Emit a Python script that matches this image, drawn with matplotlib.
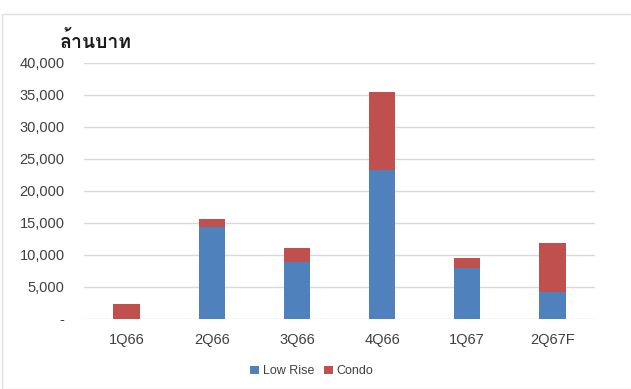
import matplotlib
matplotlib.use("Agg")
import matplotlib.pyplot as plt
from matplotlib import font_manager
from matplotlib.ticker import FuncFormatter
import numpy as np

quarters = ["1Q66", "2Q66", "3Q66", "4Q66", "1Q67", "2Q67F"]
low_rise = [0, 14400, 8950, 23300, 8000, 4200]
condo = [2400, 1300, 2150, 12200, 1500, 7700]
y_ticks = [0, 5000, 10000, 15000, 20000, 25000, 30000, 35000, 40000]
unit_label = "ล้านบาท"

BLUE = "#4F81BD"
RED = "#C0504D"
TEXT = "#404040"


def thai_font():
    # find an installed font that has Thai glyphs
    for f in font_manager.fontManager.ttflist:
        try:
            ft = font_manager.get_font(f.fname)
            if 0x0E25 in ft.get_charmap():
                return f.name
        except Exception:
            pass
    return "DejaVu Sans"


plt.rcParams["font.family"] = ["Liberation Sans", "DejaVu Sans"]

fig = plt.figure(figsize=(6.31, 3.89), dpi=100)
ax = fig.add_axes([84 / 631, 1 - 319 / 389, 511 / 631, 256 / 389])

x = np.arange(len(quarters))
ax.bar(x, low_rise, width=0.31, color=BLUE, label="Low Rise", zorder=3)
ax.bar(x, condo, width=0.31, bottom=low_rise, color=RED, label="Condo", zorder=3)

ax.set_xlim(-0.5, len(quarters) - 0.5)
ax.set_ylim(0, 40000)
ax.set_yticks(y_ticks)
ax.yaxis.set_major_formatter(FuncFormatter(lambda v, p: "-" if v == 0 else f"{v:,.0f}"))
ax.set_xticks(x)
ax.set_xticklabels(quarters)
ax.grid(axis="y", color="#D9D9D9", linewidth=1, zorder=0)
for s in ax.spines.values():
    s.set_visible(False)
ax.tick_params(axis="both", length=0, labelsize=10.5, colors=TEXT)
ax.tick_params(axis="y", pad=14)
ax.tick_params(axis="x", pad=10)

fig.text(60 / 631, 1 - 42 / 389, unit_label, fontsize=14, color="#1a1a1a",
         family=[thai_font(), "DejaVu Sans"], weight="bold", va="center", ha="left")

ax.legend(loc="center", bbox_to_anchor=(0.446, -0.205), ncol=2, frameon=False,
          fontsize=9, handlelength=0.7, handleheight=0.7, handletextpad=0.3,
          columnspacing=0.8, labelcolor=TEXT)

fig.patches.append(plt.Rectangle((2 / 631, 0), 1, 1 - 14 / 389, transform=fig.transFigure,
                                 fill=False, edgecolor="#E0E0E0", linewidth=1))

fig.savefig("out.png", dpi=100)
